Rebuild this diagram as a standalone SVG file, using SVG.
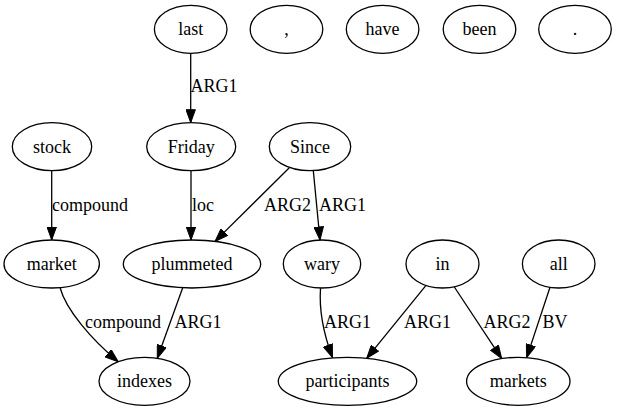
<svg xmlns="http://www.w3.org/2000/svg" width="617" height="411" viewBox="0 0 617 411">
<style>
.n ellipse{fill:#fff;stroke:#000;stroke-width:1.3}
text{font-family:'Liberation Serif','DejaVu Serif',serif;font-size:18px;fill:#000;text-anchor:middle}
.e path{fill:none;stroke:#000;stroke-width:1.3;marker-end:url(#ah)}
</style>
<defs>
<marker id="ah" markerUnits="userSpaceOnUse" viewBox="0 0 14 10" markerWidth="14" markerHeight="10" refX="13.5" refY="5" orient="auto">
<path d="M0.5,0.3 L13.5,5 L0.5,9.7 Z" fill="#000" stroke="#000" stroke-width="1"/>
</marker>
</defs>
<rect width="617" height="411" fill="#fff"/>
<g font-family="Liberation Serif, DejaVu Serif, serif">
<g id="edges" class="e">
<path d="M190.7,53.3 L190.7,122.7"/>
<path d="M51.7,170.7 L51.7,240"/>
<path d="M191,170.7 L191,240"/>
<path d="M289.3,167.7 L215,241.4"/>
<path d="M313.3,170.6 L320,240"/>
<path d="M60,287.5 C66,310 92,340 118.3,361.7"/>
<path d="M182.7,287.8 L157.3,358.3"/>
<path d="M320.5,288.2 C319,310 324,335 332.5,357.6"/>
<path d="M426,285.4 L366.7,358.3"/>
<path d="M454,286.5 L501.7,358.6"/>
<path d="M550,287.3 L526.7,357.6"/>
</g>
<g id="edge-labels">
<text x="214" y="92">ARG1</text>
<text x="90" y="211">compound</text>
<text x="203" y="211">loc</text>
<text x="287.5" y="211">ARG2</text>
<text x="342.5" y="211">ARG1</text>
<text x="123" y="328">compound</text>
<text x="198" y="328">ARG1</text>
<text x="347.5" y="328">ARG1</text>
<text x="427.5" y="328">ARG1</text>
<text x="507" y="328">ARG2</text>
<text x="555" y="328">BV</text>
</g>
<g id="n-last" class="n"><ellipse cx="190.7" cy="29.3" rx="36.3" ry="24"/><text x="190.7" y="35.3">last</text></g>
<g id="n-comma" class="n"><ellipse cx="286.5" cy="29.3" rx="36.3" ry="24"/><text x="286.5" y="35.3">,</text></g>
<g id="n-have" class="n"><ellipse cx="382.6" cy="29.3" rx="36.3" ry="24"/><text x="382.6" y="35.3">have</text></g>
<g id="n-been" class="n"><ellipse cx="479.5" cy="29.3" rx="36.3" ry="24"/><text x="479.5" y="35.3">been</text></g>
<g id="n-period" class="n"><ellipse cx="575" cy="29.3" rx="36.3" ry="24"/><text x="575" y="35.3">.</text></g>
<g id="n-stock" class="n"><ellipse cx="52" cy="146.7" rx="39.7" ry="24"/><text x="52" y="152.7">stock</text></g>
<g id="n-Friday" class="n"><ellipse cx="191.2" cy="146.7" rx="44.5" ry="24"/><text x="191.2" y="152.7">Friday</text></g>
<g id="n-Since" class="n"><ellipse cx="310" cy="146.7" rx="40.7" ry="24"/><text x="310" y="152.7">Since</text></g>
<g id="n-market" class="n"><ellipse cx="51.7" cy="264" rx="47.7" ry="24"/><text x="51.7" y="270">market</text></g>
<g id="n-plummeted" class="n"><ellipse cx="192" cy="264" rx="68.7" ry="24"/><text x="192" y="270">plummeted</text></g>
<g id="n-wary" class="n"><ellipse cx="322" cy="264" rx="38.7" ry="24"/><text x="322" y="270">wary</text></g>
<g id="n-in" class="n"><ellipse cx="442.5" cy="264" rx="36.5" ry="24"/><text x="442.5" y="270">in</text></g>
<g id="n-all" class="n"><ellipse cx="558.7" cy="264" rx="36.3" ry="24"/><text x="558.7" y="270">all</text></g>
<g id="n-indexes" class="n"><ellipse cx="144.5" cy="381.3" rx="45.5" ry="24"/><text x="144.5" y="387.3">indexes</text></g>
<g id="n-participants" class="n"><ellipse cx="347.5" cy="381.3" rx="69.2" ry="24"/><text x="347.5" y="387.3">participants</text></g>
<g id="n-markets" class="n"><ellipse cx="518.3" cy="381.3" rx="51.7" ry="24"/><text x="518.3" y="387.3">markets</text></g>
</g>
</svg>
